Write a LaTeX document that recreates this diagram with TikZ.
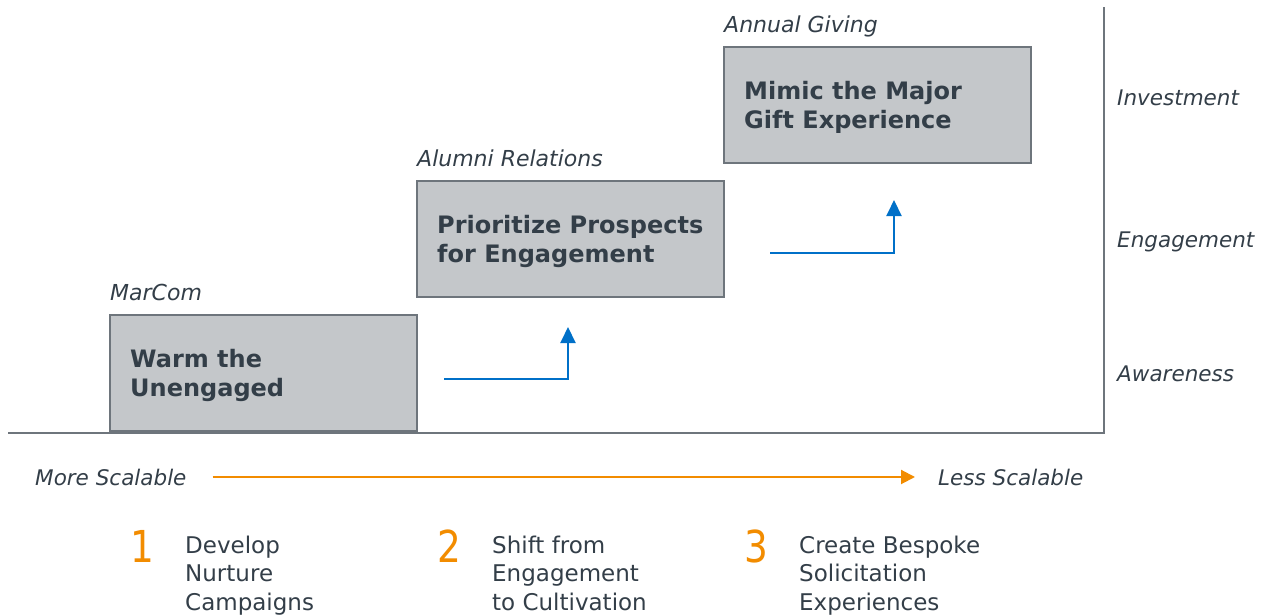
\documentclass[tikz,border=0pt]{standalone}
\usepackage{fontspec}
\setmainfont{DejaVu Sans}
\newfontfamily\numfont[FakeStretch=0.85]{DejaVu Sans}
\usetikzlibrary{calc}
\usetikzlibrary{arrows.meta}
\definecolor{boxfill}{RGB}{196,199,202}
\definecolor{boxline}{RGB}{110,117,124}
\definecolor{darktext}{RGB}{51,62,72}
\definecolor{stepblue}{RGB}{0,112,200}
\definecolor{scaleorange}{RGB}{242,140,0}
\tikzstyle{stepbox}=[draw=boxline,fill=boxfill,line width=2pt,minimum width=307pt,minimum height=116pt,inner sep=0pt,outer sep=0pt,anchor=north west]
\tikzstyle{steptext}=[text=darktext,font=\bfseries\fontsize{24}{29}\selectfont,align=left,inner sep=0pt,anchor=north west]
\tikzstyle{unitlabel}=[text=darktext,font=\itshape\fontsize{22}{26}\selectfont,inner sep=0pt,anchor=base west]
\tikzstyle{levellabel}=[text=darktext,font=\itshape\fontsize{21.5}{26}\selectfont,inner sep=0pt,anchor=base west]
\tikzstyle{steparrow}=[draw=stepblue,line width=2pt,-{Triangle[length=16pt,width=15pt]}]
\tikzstyle{scalearrow}=[draw=scaleorange,line width=2pt,-{Triangle[length=14pt,width=14pt]}]
\tikzstyle{axisline}=[draw=boxline,line width=2pt]
\tikzstyle{itemnum}=[text=scaleorange,font=\numfont\fontsize{44}{44}\selectfont,inner sep=0pt,anchor=base west]
\tikzstyle{itemtext}=[text=darktext,font=\fontsize{23}{28.5}\selectfont,align=left,inner sep=0pt,anchor=north west]
\newcommand{\newstep}[5]{% Syntax: {name}{left}{top}{label}{text}
\node[stepbox] (#1) at (#2,#3) {};
\node[unitlabel] (#1-label) at ($(#1.north west)+(0,-15)$) {#4};
\node[steptext] (#1-text) at ($(#1.north west)+(20,34)$) {#5};
}
\newcommand{\newitem}[4]{% Syntax: {name}{left}{number}{text}
\node[itemnum] (#1-num) at (#2+20,562) {#3};
\node[itemtext] (#1) at (#2+75,535.5) {#4};
}

\begin{document}
\begin{tikzpicture}[x=1pt,y=-1pt]
  \useasboundingbox (0,0) rectangle (1265,614);
  % axes
  \coordinate (xstart) at (8,433);
  \coordinate (corner) at (1104,433);
  \coordinate (ytop) at (1104,7);
  \draw[axisline] (xstart) -- (corner) -- (ytop);
  % steps
  \newstep{marcom}{110}{315}{MarCom}{Warm the\\Unengaged}
  \newstep{alumni}{417}{181}{Alumni Relations}{Prioritize Prospects\\for Engagement}
  \newstep{annual}{724}{47}{Annual Giving}{Mimic the Major\\Gift Experience}
  \coordinate (up1s) at (444,379);
  \coordinate (up1e) at (568,327);
  \draw[steparrow] (up1s) -| (up1e);
  \coordinate (up2s) at (770,253);
  \coordinate (up2e) at (894,200);
  \draw[steparrow] (up2s) -| (up2e);
  % levels
  \node[levellabel] (invest) at (1117,105) {Investment};
  \node[levellabel] (engage) at (1117,247) {Engagement};
  \node[levellabel] (aware) at (1117,381) {Awareness};
  % scalability
  \node[levellabel] (more) at (35,485) {More Scalable};
  \node[levellabel] (less) at (938,485) {Less Scalable};
  \draw[scalearrow] ([xshift=26pt]more.east) -- ([xshift=-23pt]less.west);
  \newitem{nurture}{110}{1}{Develop\\Nurture\\Campaigns}
  \newitem{shift}{417}{2}{Shift from\\Engagement\\to Cultivation}
  \newitem{bespoke}{724}{3}{Create Bespoke\\Solicitation\\Experiences}
\end{tikzpicture}
\end{document}
